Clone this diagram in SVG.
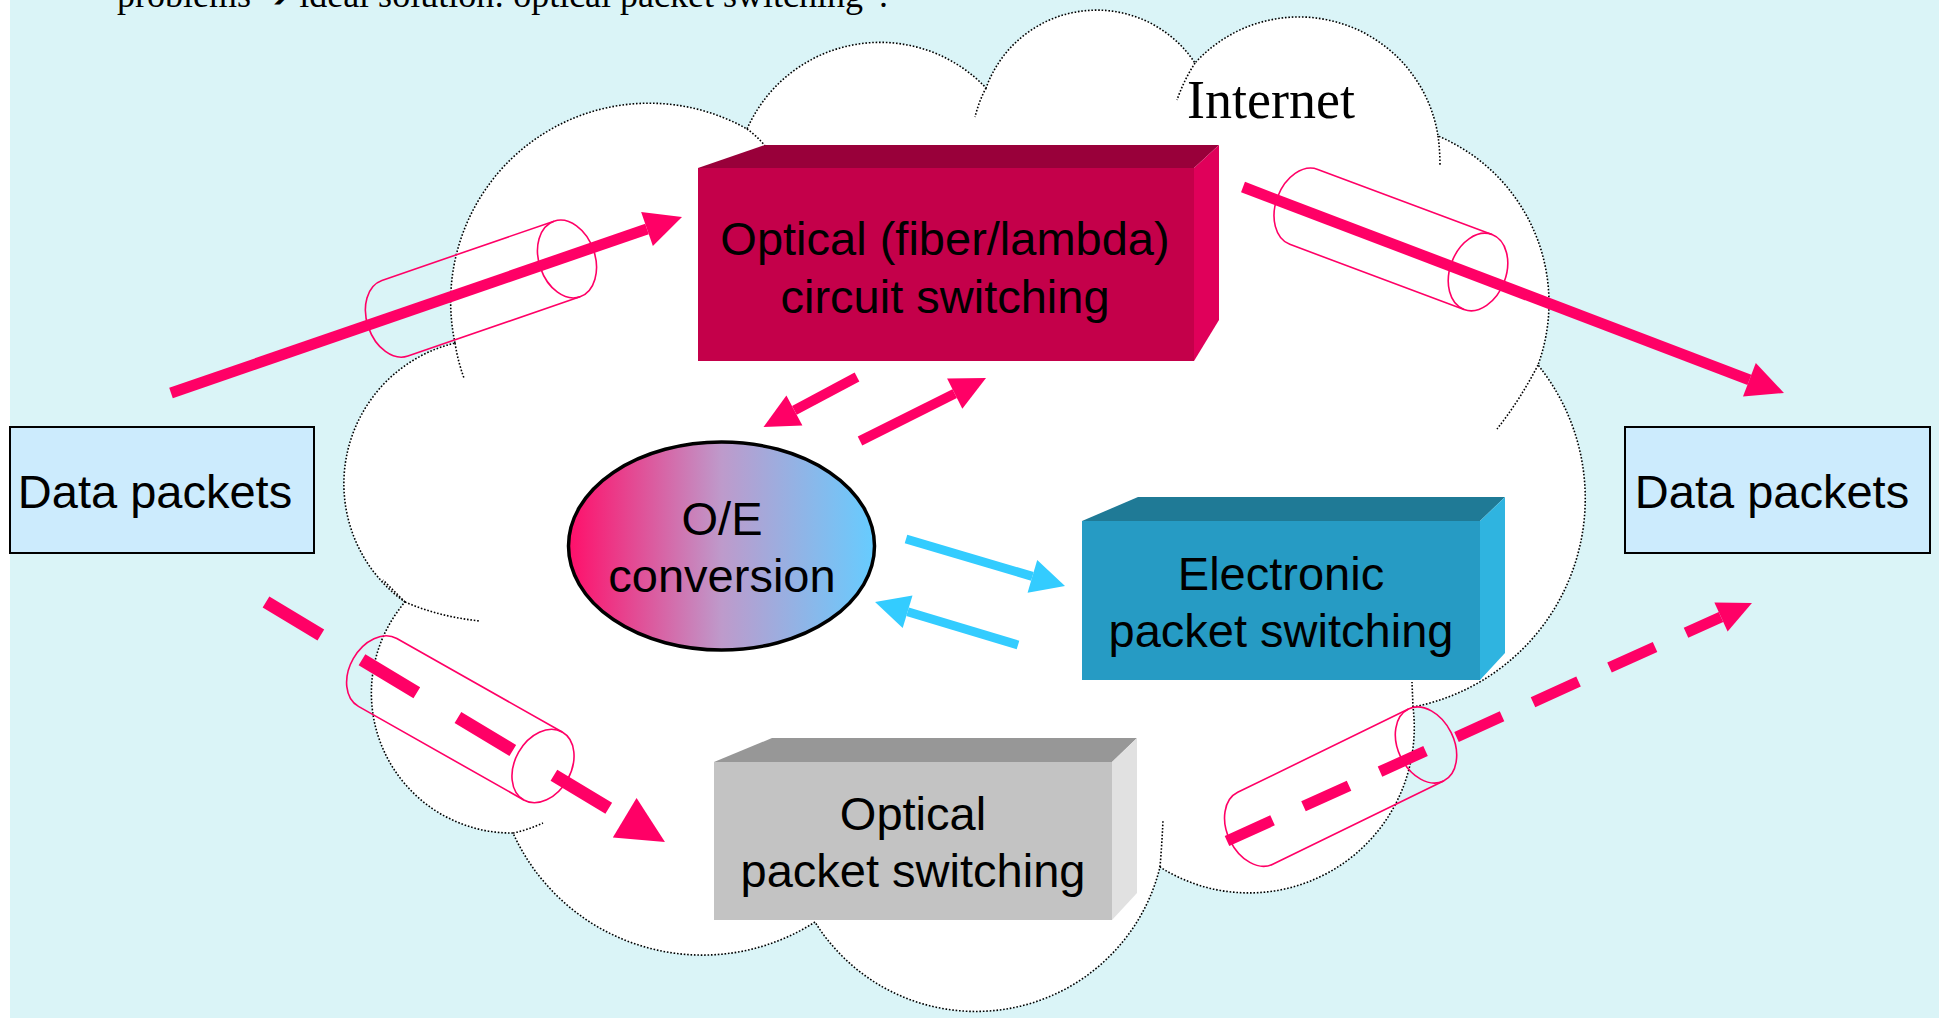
<svg xmlns="http://www.w3.org/2000/svg" width="1939" height="1018" viewBox="0 0 1939 1018">
<defs>
<style>
.lbl{font-family:"Liberation Sans",Arial,sans-serif;font-size:47px;fill:#000;text-anchor:middle}
.cloud{fill:#fff;stroke:#000;stroke-width:1.6;stroke-dasharray:1.6 1.8}
.inner{fill:none;stroke:#000;stroke-width:1.6;stroke-dasharray:1.6 1.8}
.cyl{fill:none;stroke:#FF0066;stroke-width:1.6}
.pk{stroke:#FF0066;fill:none}
.cy{stroke:#33CCFF;fill:none;stroke-width:9}
.data{fill:#CCEBFD;stroke:#000;stroke-width:2}
</style>
<linearGradient id="oe" x1="0" y1="0" x2="1" y2="0">
<stop offset="0" stop-color="#FF0F6A"/>
<stop offset="0.5" stop-color="#BE9ACB"/>
<stop offset="1" stop-color="#66CCFF"/>
</linearGradient>
<marker id="hp" markerUnits="userSpaceOnUse" markerWidth="37" markerHeight="36" refX="0" refY="18" orient="auto" overflow="visible">
<path d="M0,0 L37,18 L0,36 Z" fill="#FF0066"/>
</marker>
<marker id="hps" markerUnits="userSpaceOnUse" markerWidth="35" markerHeight="34" refX="0" refY="17" orient="auto" overflow="visible">
<path d="M0,0 L35,17 L0,34 Z" fill="#FF0066"/>
</marker>
<marker id="hpb" markerUnits="userSpaceOnUse" markerWidth="47" markerHeight="46" refX="0" refY="23" orient="auto" overflow="visible">
<path d="M0,0 L47,23 L0,46 Z" fill="#FF0066"/>
</marker>
<marker id="hpd" markerUnits="userSpaceOnUse" markerWidth="34" markerHeight="32" refX="0" refY="16" orient="auto" overflow="visible">
<path d="M0,0 L34,16 L0,32 Z" fill="#FF0066"/>
</marker>
<marker id="hc" markerUnits="userSpaceOnUse" markerWidth="34" markerHeight="34" refX="0" refY="17" orient="auto" overflow="visible">
<path d="M0,0 L34,17 L0,34 Z" fill="#33CCFF"/>
</marker>
</defs>

<rect x="0" y="0" width="1939" height="1018" fill="#FFFFFF"/>
<rect x="10" y="0" width="1929" height="1018" fill="#DAF4F7"/>

<text x="117" y="7" font-family="Liberation Serif, DejaVu Sans, serif" font-size="36" fill="#000">problems <tspan font-family="DejaVu Sans, sans-serif" font-weight="bold">➔</tspan> ideal solution: optical packet switching”.</text>

<g id="cloud">
<path class="cloud" d="M455,343 A198.5,198.5 0 0 1 747,129 A145.6,145.6 0 0 1 986,88 A117.7,117.7 0 0 1 1195,63 A140.6,140.6 0 0 1 1438,136 A181,181 0 0 1 1538,365 A212.3,212.3 0 0 1 1413,707 A165.4,165.4 0 0 1 1160,867 A189.5,189.5 0 0 1 815,922 A208,208 0 0 1 513,833 A140,140 0 0 1 405,602 A144.8,144.8 0 0 1 455,343 Z"/>
<path class="inner" d="M455,343 Q458,362 464,378 M747,129 Q757,136 766,147 M986,88 Q979,101 975,117 M1195,63 Q1184,80 1177,100 M1438,136 Q1440,150 1440,166 M1538,365 Q1520,400 1497,429 M1413,707 L1412,682 M1160,867 Q1162,843 1163,820 M513,833 Q528,830 543,823 M405,602 Q440,617 480,621 M405,602 L383,580"/>
<text x="1187" y="118" font-family="Liberation Serif, serif" font-size="54" fill="#000">Internet</text>
</g>

<g id="cylinders">
<g transform="translate(567,259) rotate(-19)"><path class="cyl" d="M0,-40 L-182,-40 A28,40 0 0 0 -182,40 L0,40"/><ellipse class="cyl" cx="0" cy="0" rx="28" ry="40"/></g>
<g transform="translate(1478,272) rotate(20.5)"><path class="cyl" d="M0,-40 L-186,-40 A28,40 0 0 0 -186,40 L0,40"/><ellipse class="cyl" cx="0" cy="0" rx="28" ry="40"/></g>
<g transform="translate(543,766) rotate(29.5)"><path class="cyl" d="M0,-39 L-190,-39 A28,39 0 0 0 -190,39 L0,39"/><ellipse class="cyl" cx="0" cy="0" rx="28" ry="39"/></g>
<g transform="translate(1426,745) rotate(-26)"><path class="cyl" d="M0,-40 L-190,-40 A28,40 0 0 0 -190,40 L0,40"/><ellipse class="cyl" cx="0" cy="0" rx="28" ry="40"/></g>
</g>

<g id="circuit">
<polygon points="698,168 765,145 1219,145 1194,168" fill="#99003A"/>
<polygon points="1194,168 1219,145 1219,320 1194,361" fill="#E0005A"/>
<rect x="698" y="168" width="496" height="193" fill="#C4004A"/>
<text class="lbl" x="945" y="255">Optical (fiber/lambda)</text>
<text class="lbl" x="945" y="313">circuit switching</text>
</g>

<g id="electronic">
<polygon points="1082,521 1138,497 1505,497 1480,521" fill="#1F7A96"/>
<polygon points="1480,521 1505,497 1505,653 1480,680" fill="#2FB4E0"/>
<rect x="1082" y="521" width="398" height="159" fill="#269BC4"/>
<text class="lbl" x="1281" y="590">Electronic</text>
<text class="lbl" x="1281" y="647">packet switching</text>
</g>

<g id="optical">
<polygon points="714,762 772,738 1137,738 1112,762" fill="#979797"/>
<polygon points="1112,762 1137,738 1137,893 1112,920" fill="#E1E1E1"/>
<rect x="714" y="762" width="398" height="158" fill="#C3C3C3"/>
<text class="lbl" x="913" y="830">Optical</text>
<text class="lbl" x="913" y="887">packet switching</text>
</g>

<g id="oe-conv">
<ellipse cx="721.5" cy="546" rx="153" ry="104" fill="url(#oe)" stroke="#000" stroke-width="3.5"/>
<text class="lbl" x="722" y="535">O/E</text>
<text class="lbl" x="722" y="592">conversion</text>
</g>

<g id="data-left">
<rect class="data" x="10" y="427" width="304" height="126"/>
<text class="lbl" x="155" y="508">Data packets</text>
</g>
<g id="data-right">
<rect class="data" x="1625" y="427" width="305" height="126"/>
<text class="lbl" x="1772" y="508">Data packets</text>
</g>

<g id="connectors">
<line class="pk" x1="171" y1="393" x2="647" y2="229" stroke-width="11" marker-end="url(#hp)"/>
<line class="pk" x1="1243" y1="187" x2="1749.4" y2="379.8" stroke-width="11" marker-end="url(#hp)"/>
<line class="pk" x1="857" y1="377" x2="794.4" y2="410.4" stroke-width="10" marker-end="url(#hps)"/>
<line class="pk" x1="860" y1="441" x2="954.7" y2="393.6" stroke-width="10" marker-end="url(#hps)"/>
<line class="cy" x1="906" y1="539" x2="1032.4" y2="576.4" marker-end="url(#hc)"/>
<line class="cy" x1="1018" y1="645" x2="907.6" y2="611.8" marker-end="url(#hc)"/>
<line class="pk" x1="266" y1="602" x2="624.7" y2="817.8" stroke-width="13" stroke-dasharray="64 48" marker-end="url(#hpb)"/>
<line class="pk" x1="1227" y1="841" x2="1721" y2="617" stroke-width="11" stroke-dasharray="50 34" marker-end="url(#hpd)"/>
</g>
</svg>
